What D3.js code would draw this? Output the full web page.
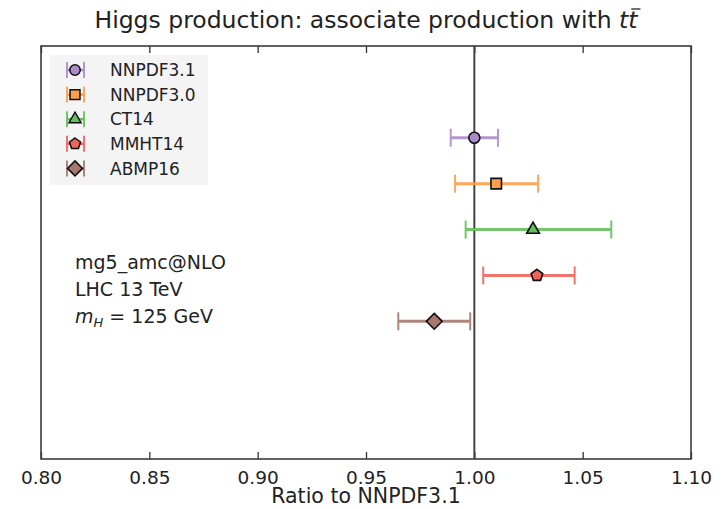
<!DOCTYPE html>
<html>
<head>
<meta charset="utf-8">
<script src="https://cdn.jsdelivr.net/npm/d3@7"></script>
<style>
  body { margin: 0; background: #fff; }
  text { font-family: "DejaVu Sans", sans-serif; fill: #222; }
</style>
</head>
<body>
<script>
// values
const pdfs    = ["NNPDF3.1", "NNPDF3.0", "CT14", "MMHT14", "ABMP16"];
const central = [1.000, 1.0101, 1.0271, 1.0289, 0.9815];
const errLow  = [0.9891, 0.9911, 0.9960, 1.0041, 0.9649];
const errHigh = [1.0109, 1.0294, 1.0632, 1.0463, 0.9981];
const colors  = ["#ad8bc9", "#ff9e4a", "#67bf5c", "#ed665d", "#a8786e"];
const shapes  = ["circle", "square", "triangle", "pentagon", "diamond"];
const xTicks  = [0.80, 0.85, 0.90, 0.95, 1.00, 1.05, 1.10];

function poly(n, rot) {
  return {
    draw(ctx, size) {
      const r = Math.sqrt(size / 2);
      for (let i = 0; i < n; i++) {
        const a = rot + i * 2 * Math.PI / n;
        if (i === 0) ctx.moveTo(r * Math.cos(a), r * Math.sin(a));
        else ctx.lineTo(r * Math.cos(a), r * Math.sin(a));
      }
      ctx.closePath();
    }
  };
}

function main() {
  const width = 722, height = 509;
  const m = {left: 41, right: 31, top: 46, bottom: 50};

  const svg = d3.select("body").append("svg")
    .attr("width", width)
    .attr("height", height);

  const x = d3.scaleLinear().domain([0.80, 1.10]).range([m.left, width - m.right]);
  const y = d3.scaleLinear().domain([-2, 7]).range([m.top, height - m.bottom]);

  const symTypes = {
    circle: d3.symbolCircle,
    square: d3.symbolSquare,
    triangle: d3.symbolTriangle,
    pentagon: poly(5, -Math.PI / 2),
    diamond: poly(4, -Math.PI / 2)
  };
  const sizes = {circle: 95, square: 110, triangle: 70, pentagon: 75, diamond: 125};

  // ticks top + bottom, inward
  svg.append("g")
    .attr("transform", `translate(0,${height - m.bottom})`)
    .call(d3.axisBottom(x).tickValues(xTicks).tickSizeInner(-7).tickSizeOuter(0).tickFormat(d3.format(".2f")))
    .call(g => g.select(".domain").remove())
    .call(g => g.selectAll("line").attr("stroke", "#333").attr("stroke-width", 1.3))
    .call(g => g.selectAll("text").attr("y", 25).attr("dy", null)
      .style("font-size", "18.5px").style("font-family", "'DejaVu Sans', sans-serif").attr("fill", "#333"));

  svg.append("g")
    .attr("transform", `translate(0,${m.top})`)
    .call(d3.axisTop(x).tickValues(xTicks).tickSizeInner(-7).tickSizeOuter(0).tickFormat(""))
    .call(g => g.select(".domain").remove())
    .call(g => g.selectAll("line").attr("stroke", "#333").attr("stroke-width", 1.3));

  // reference line at 1
  svg.append("line")
    .attr("x1", x(1)).attr("x2", x(1))
    .attr("y1", m.top).attr("y2", height - m.bottom)
    .attr("stroke", "#444").attr("stroke-width", 2);

  // frame
  svg.append("rect")
    .attr("x", m.left).attr("y", m.top)
    .attr("width", width - m.left - m.right)
    .attr("height", height - m.top - m.bottom)
    .attr("fill", "none").attr("stroke", "#3a3a3a").attr("stroke-width", 1.6);

  // error bars
  const rows = pdfs.map((p, i) => ({p, i, c: central[i], lo: errLow[i], hi: errHigh[i]}));
  const eb = svg.append("g").selectAll("g").data(rows).join("g")
    .attr("stroke", d => colors[d.i]).attr("stroke-width", 3).attr("opacity", 0.9);
  eb.append("line")
    .attr("x1", d => x(d.lo)).attr("x2", d => x(d.hi))
    .attr("y1", d => y(d.i)).attr("y2", d => y(d.i));
  eb.append("line")
    .attr("x1", d => x(d.lo)).attr("x2", d => x(d.lo))
    .attr("y1", d => y(d.i) - 9).attr("y2", d => y(d.i) + 9).attr("stroke-width", 2);
  eb.append("line")
    .attr("x1", d => x(d.hi)).attr("x2", d => x(d.hi))
    .attr("y1", d => y(d.i) - 9).attr("y2", d => y(d.i) + 9).attr("stroke-width", 2);

  const sym = (d, k) => d3.symbol(symTypes[shapes[d.i]], sizes[shapes[d.i]] * k)();

  svg.append("g").selectAll("path").data(rows).join("path")
    .attr("transform", d => `translate(${x(d.c)},${y(d.i)})`)
    .attr("d", d => sym(d, 1))
    .attr("fill", d => colors[d.i])
    .attr("stroke", "#111").attr("stroke-width", 1.6);

  // legend
  const lg = svg.append("g");
  lg.append("rect")
    .attr("x", 50).attr("y", 55).attr("width", 158).attr("height", 130)
    .attr("fill", "#f4f4f4");
  const li = lg.selectAll("g").data(rows).join("g")
    .attr("transform", d => `translate(75,${70 + d.i * 24.6})`);
  li.append("line").attr("x1", -8).attr("x2", 9).attr("y1", 0).attr("y2", 0)
    .attr("stroke", d => colors[d.i]).attr("stroke-width", 2.5);
  li.append("line").attr("x1", -8).attr("x2", -8).attr("y1", -8).attr("y2", 8)
    .attr("stroke", d => colors[d.i]).attr("stroke-width", 1.8);
  li.append("line").attr("x1", 9).attr("x2", 9).attr("y1", -8).attr("y2", 8)
    .attr("stroke", d => colors[d.i]).attr("stroke-width", 1.8);
  li.append("path")
    .attr("d", d => sym(d, 0.9))
    .attr("fill", d => colors[d.i]).attr("stroke", "#111").attr("stroke-width", 1.5);
  li.append("text").attr("x", 35).attr("dy", "0.36em")
    .style("font-size", "17px").text(d => d.p);

  // annotation
  const ann = svg.append("g").style("font-size", "19px");
  ann.append("text").attr("x", 75).attr("y", 269).text("mg5_amc@NLO");
  ann.append("text").attr("x", 75).attr("y", 296).text("LHC 13 TeV");
  const mh = ann.append("text").attr("x", 75).attr("y", 323);
  mh.append("tspan").style("font-style", "italic").text("m");
  mh.append("tspan").style("font-style", "italic").style("font-size", "13px").attr("dy", 4).text("H");
  mh.append("tspan").attr("dy", -4).text(" = 125 GeV");

  // title + axis label
  const t = svg.append("text").attr("x", (m.left + width - m.right) / 2).attr("y", 28)
    .attr("text-anchor", "middle").style("font-size", "23.5px");
  t.append("tspan").text("Higgs production: associate production with ");
  t.append("tspan").style("font-style", "italic").text("tt");
  const tn = t.node(), nc = tn.getNumberOfChars();
  const s = tn.getStartPositionOfChar(nc - 1), e = tn.getEndPositionOfChar(nc - 1);
  svg.append("line")
    .attr("x1", s.x + 3).attr("x2", e.x + 3)
    .attr("y1", 28 - 19).attr("y2", 28 - 19)
    .attr("stroke", "#222").attr("stroke-width", 1.3);

  svg.append("text").attr("x", (m.left + width - m.right) / 2).attr("y", 503)
    .attr("text-anchor", "middle").style("font-size", "20.5px").attr("fill", "#333")
    .text("Ratio to NNPDF3.1");
}

window.addEventListener("load", main);
</script>
</body>
</html>
